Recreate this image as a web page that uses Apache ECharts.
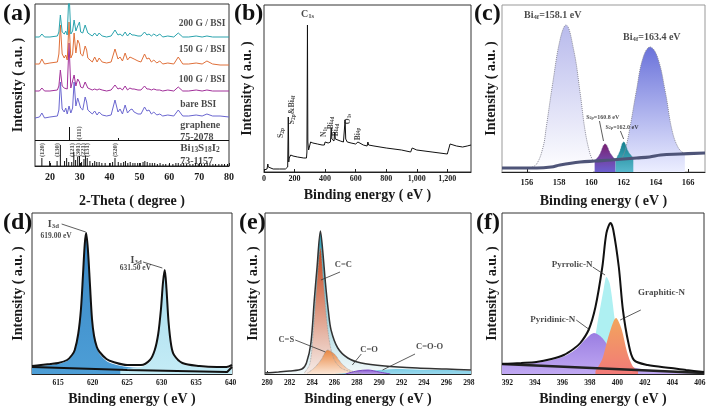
<!DOCTYPE html>
<html><head><meta charset="utf-8">
<script src="https://cdn.jsdelivr.net/npm/echarts@6/dist/echarts.min.js"></script>
<style>html,body{margin:0;padding:0;background:#fff}#c{width:709px;height:409px}</style>
</head><body><div id="c"></div>
<script>
// ===================== DATA =====================
// (a) XRD
const xrdTheta = [15,16.5,17.3,18.2,20,22.5,23.0,23.5,24.1,24.8,25.3,25.8,26.4,27.0,27.6,28.1,28.7,29.3,29.9,30.3,31.0,31.8,32.3,32.7,33.3,34.2,35.0,35.8,36.5,37.5,39.0,40.5,41.8,42.8,43.5,44.3,45.2,46.0,46.8,47.5,48.2,49.5,50.5,51.7,52.5,53.2,54.0,54.8,55.8,56.8,57.8,59.5,61.5,63.0,64.5,66.5,69.0,71.0,72.6,74.5,77.0,80.0];
const xrdBare = [48,49,53,48,49,50,56,84,57,54,58,52,60,53,58,84,60,68,66,58,56,69,64,56,57,52,55,51,54,51,50,51,66,54,57,52,61,53,56,57,54,52,52,59,55,56,52,54,51,52,50,51,50,56,50,50,51,50,52,50,50,49];
const xrd100G = [75,75,78,75,75,76,80,96,80,78,79,77,123,78,80,91,80,87,84,79,78,84,82,78,78,76,77,76,77,76,75,76,81,77,78,76,80,76,78,77,77,76,76,80,77,77,76,77,76,76,75,76,75,79,75,75,76,75,76,75,75,75];
const xrd150G = [102,102,107,102,103,104,112,141,112,108,111,106,144,108,112,133,113,126,122,112,110,120,116,108,109,104,109,104,108,104,103,104,117,107,109,105,113,106,109,108,107,105,104,112,107,108,104,106,103,105,102,103,102,109,102,102,103,102,105,102,101,101];
const xrd200G = [129,129,132,129,129,130,134,151,134,132,135,131,175,132,135,146,135,140,144,134,133,141,140,133,133,130,133,130,133,130,129,130,136,131,132,130,134,130,133,131,131,130,130,134,131,132,130,132,130,132,129,130,129,133,129,129,130,129,130,129,129,129];
const xrdNames = ['200 G / BSI','150 G / BSI','100 G / BSI','bare BSI'];
const biRefTheta = [17.3,19.9,22.4,23.5,24.9,25.6,26.3,27.3,28.0,28.6,29.3,29.9,30.6,31.4,31.9,32.5,33.4,34.3,35.0,35.7,36.5,37.4,38.5,40.2,41.0,41.8,42.9,43.8,44.7,45.3,46.1,46.9,47.8,48.5,49.4,50.3,51.2,51.8,52.6,53.5,54.3,55.1,56.0,56.9,57.9,58.8,60.0,61.2,62.2,63.0,63.9,64.8,65.8,66.9,67.9,68.8,69.7,70.8,71.8,72.7,73.6,74.6,75.5,76.6,77.6,78.5,79.5];
const biRefInt = [8,5,5,21,5,8,4,4,14,6,9,10,4,7,10,8,5,3,5,4,4,3,3,3,4,8,4,3,4,5,3,4,3,3,3,3,4,5,4,3,3,3,2,3,2,2,2,2,3,3,2,3,2,2,2,3,2,2,2,3,2,2,2,2,2,2,2];
const grapheneTheta = [26.5, 42.9];
const grapheneTop = [39, 28];
const refDivider = 26;
const hklTheta = [17.3,22.4,27.4,29.4,31.1,32.4,41.8];
const hklLabels = ['(120)','(130)','(121)','(301)','(221)','(131)','(520)'];

// (b) XPS survey [binding energy, intensity]
const survey = [[0,2],[10,2],[20,3],[25,8],[28,5],[35,4],[60,3],[100,3],[140,3],[150,3],[155,5],[157,30],[159,55],[161,30],[162,10],[165,14],[175,17],[190,16],[220,15],[260,14],[278,14],[281,20],[284.5,147],[287,30],[292,22],[300,24],[305,30],[312,32],[320,29],[350,28],[380,27],[395,27],[400,30],[405,28],[420,29],[435,30],[440,44],[444,33],[450,31],[458,31],[463,40],[467,33],[480,32],[500,31],[520,30],[528,31],[531,52],[535,33],[545,30],[570,29],[600,28],[615,30],[620,29],[650,27],[675,26],[680,30],[685,27],[720,26],[800,24],[900,22],[960,20],[970,24],[980,23],[1000,22],[1100,20],[1200,18],[1210,19],[1218,28],[1230,27],[1260,26],[1300,25],[1330,26],[1355,27]];

// (c) Bi 4f / S 2p
const cBackground = [[154.45,4],[156.6,4],[157.5,5],[158.05,7],[159.3,10],[160.2,11],[161.2,12],[162.8,14],[163.6,15],[164.3,17],[165.5,18],[167.05,19]];
const cBi4f72 = [[156.2,4],[156.6,8],[157.0,25],[157.2,45],[157.6,89],[158.05,132],[158.42,147],[158.9,122],[159.3,79],[159.6,42],[159.9,19],[160.1,11]];
const cBi4f52 = [[161.9,14],[162.1,22],[162.4,45],[162.8,82],[163.2,114],[163.64,125],[164.1,115],[164.6,79],[165.0,42],[165.4,24],[165.8,18]];
const cS2pA = [[160.2,11],[160.5,17],[160.85,28],[161.2,18],[161.5,12]];
const cS2pB = [[161.5,12],[161.75,20],[162.0,30],[162.3,20],[162.6,14]];

// (d) I 3d
const dEnvelope = [[611.2,8],[612.5,9],[613.8,10],[615.0,11],[616.3,14],[617.0,19],[617.4,24],[617.9,40],[618.3,65],[618.6,100],[618.85,130],[619.05,141],[619.3,125],[619.6,90],[619.9,55],[620.2,38],[620.6,27],[621.0,22],[622.0,15],[623.0,12],[625.0,9],[627.0,9],[628.3,14],[629.0,24],[629.5,40],[629.9,65],[630.2,92],[630.45,104],[630.7,85],[631.0,52],[631.4,28],[631.8,19],[633.0,11],[635.5,8],[638.0,7],[639.4,7],[640.2,9]];
const dI3d52 = [[611.2,8],[613.8,9],[616.3,13],[617.4,23],[617.9,39],[618.3,64],[618.6,99],[618.85,129],[619.05,140],[619.3,124],[619.6,89],[619.9,54],[620.2,37],[620.6,26],[621.0,20],[622.0,13],[623.0,10],[625.0,7],[628.0,6],[632,5],[640.2,4]];
const dI3d32 = [[624,5],[627.0,7],[628.3,12],[629.0,23],[629.5,39],[629.9,64],[630.2,91],[630.45,103],[630.7,84],[631.0,51],[631.4,27],[631.8,18],[633.0,10],[635.5,7],[638.0,6],[640.2,6]];
const dBackground = [[611.2,7],[625,4],[639.5,2],[640.2,7]];

// (e) C 1s
const eEnvelope = [[279.8,1],[281,2],[282,3],[283.1,5],[283.5,11],[283.9,31],[284.2,74],[284.45,107],[284.75,143],[284.95,124],[285.2,91],[285.45,64],[285.7,44],[286.3,26],[287.2,16],[288.4,11],[290.5,8],[293.4,6],[296,5],[298.2,4]];
const eCC = [[283.3,1],[283.8,10],[284.1,40],[284.4,85],[284.75,126],[285.0,95],[285.3,55],[285.6,30],[286.0,14],[286.6,6],[287.5,2]];
const eCS = [[283.6,1],[284.2,6],[284.8,14],[285.4,24],[286.0,20],[286.6,11],[287.2,5],[287.8,2],[288.5,0]];
const eCO = [[287.0,0],[288.0,3],[289.0,4],[290.0,2],[291,0]];
const eCOO = [[286,0],[288,2],[290,4],[292,5],[294,4],[296,4],[298.2,3]];

// (f) N 1s
const fEnvelope = [[391.6,10],[393,11],[394.1,12],[395.2,15],[396.1,19],[396.8,25],[397.3,31],[397.9,44],[398.4,67],[398.9,107],[399.2,141],[399.5,151],[399.7,144],[400.1,107],[400.4,64],[400.8,31],[401.2,14],[402.2,9],[403.9,6],[405,4],[406.3,2]];
const fPyridinic = [[391.6,9],[393,10],[394.5,12],[396,17],[397,25],[397.7,35],[398.3,41],[398.9,36],[399.5,24],[400.2,13],[401,7],[402.5,4],[404,3],[406.3,1]];
const fPyrrolic = [[397.6,5],[398.1,18],[398.6,55],[399.0,85],[399.2,97],[399.45,90],[399.8,55],[400.1,25],[400.5,8],[400.9,3]];
const fGraphitic = [[398.4,3],[398.9,15],[399.4,40],[399.9,56],[400.3,45],[400.7,22],[401.1,8],[401.5,3]];
const fBackground = [[391.6,10],[406.3,1]];

// tick labels
const ticksA = [20,30,40,50,60,70,80];
const ticksB = [0,200,400,600,800,1000,1200];
const ticksC = [156,158,160,162,164,166];
const ticksD = [615,620,625,630,635,640];
const ticksE = [280,282,284,286,288,290,292,294,296,298];
const ticksF = [392,394,396,398,400,402,404,406];

// ===================== CHART =====================
const FONT = 'Liberation Serif';
const TXT = '#1a1a1a';
const zip = (xs, ys) => xs.map((x, i) => [x, ys[i]]);
const grad = (a, b) => new echarts.graphic.LinearGradient(0, 0, 0, 1, [{offset:0, color:a}, {offset:1, color:b}]);

const gridDefs = [
  {left:35, top:4, width:194, height:162},
  {left:264, top:5, width:207, height:167},
  {left:502, top:5, width:203, height:167},
  {left:32, top:213, width:200, height:161},
  {left:265, top:213, width:206, height:161},
  {left:502, top:213, width:202, height:161}
];
const grid = gridDefs.map((g, i) => Object.assign({show:true, borderColor: i === 2 ? '#999' : '#333', borderWidth:1, backgroundColor:'transparent'}, g));

function xAx(gi, min, max, ticks, name, nameGap, fs, margin) {
  return {type:'value', gridIndex:gi, min, max, name, nameLocation:'middle', nameGap,
    nameTextStyle:{fontFamily:FONT, fontWeight:'bold', fontSize:14, color:TXT},
    axisLine:{show:true, onZero:false, lineStyle:{color:'#222', width:1}},
    axisTick:{show:true, inside:true, length:3, customValues:ticks, lineStyle:{color:'#222'}},
    axisLabel:{customValues:ticks, fontFamily:FONT, fontWeight:'bold', fontSize:fs, color:TXT, margin},
    splitLine:{show:false}};
}
function yAx(gi, max, nameGap) {
  return {type:'value', gridIndex:gi, min:0, max, name:'Intensity ( a.u. )', nameLocation:'middle', nameRotate:90, nameGap,
    nameTextStyle:{fontFamily:FONT, fontWeight:'bold', fontSize:14, color:TXT},
    axisLine:{show:false}, axisTick:{show:false}, axisLabel:{show:false}, splitLine:{show:false}};
}
const xAxis = [
  xAx(0, 15, 80, ticksA, '2-Theta ( degree )', 28, 10, 6),
  xAx(1, 0, 1355, ticksB, 'Binding energy ( eV )', 16, 8, 3),
  xAx(2, 154.45, 167.05, ticksC, 'Binding energy ( eV )', 22, 8.5, 6),
  xAx(3, 611.2, 640.2, ticksD, 'Binding energy ( eV )', 18, 7.5, 5),
  xAx(4, 279.8, 298.2, ticksE, 'Binding energy ( eV )', 18, 7.5, 5),
  xAx(5, 391.6, 406.3, ticksF, 'Binding energy ( eV )', 18, 7.5, 5)
];
const yAxis = [yAx(0, 162, 10), yAx(1, 167, 10), yAx(2, 167, 4), yAx(3, 161, 7), yAx(4, 161, 5), yAx(5, 161, 3)];

function line(gi, data, color, width, extra) {
  return Object.assign({type:'line', xAxisIndex:gi, yAxisIndex:gi, data, symbol:'none', silent:true,
    lineStyle:{color, width}}, extra || {});
}
function area(gi, data, fill, lineColor, lineWidth, lineType, smooth) {
  return {type:'line', xAxisIndex:gi, yAxisIndex:gi, data, symbol:'none', silent:true, smooth: smooth || 0,
    lineStyle:{color:lineColor, width:lineWidth, type:lineType || 'solid'}, areaStyle:{color:fill, opacity:1}};
}
function notes(gi, items, arrows) {
  const s = {type:'scatter', xAxisIndex:gi, yAxisIndex:gi, symbolSize:1, silent:true, z:10,
    itemStyle:{color:'rgba(0,0,0,0)'},
    data: items.map(n => ({value:[n[1], n[2]], label:{show:true, formatter:n[0],
      position: n[4] === 'l' ? 'right' : 'inside', distance:0, rotate:n[5] || 0,
      fontSize:n[3], fontFamily:FONT, fontWeight:'bold', color:TXT,
      rich:{s:{fontSize:n[3] * 0.68, fontFamily:FONT, fontWeight:'bold', color:TXT, verticalAlign:'bottom', padding:[n[3]*0.35,0,0,0]}}}}))};
  if (arrows) s.markLine = {silent:true, symbol:['none','arrow'], symbolSize:[0,5], label:{show:false},
    lineStyle:{color:'#333', width:0.8, type:'solid'},
    data: arrows.map(a => [{coord:[a[0], a[1]]}, {coord:[a[2], a[3]]}])};
  return s;
}

const series = [
  // (a)
  line(0, zip(xrdTheta, xrdBare), '#6a66d0', 1),
  line(0, zip(xrdTheta, xrd100G), '#a2309a', 1),
  line(0, zip(xrdTheta, xrd150G), '#e0703a', 1),
  line(0, zip(xrdTheta, xrd200G), '#2aa3ad', 1),
  {type:'bar', xAxisIndex:0, yAxisIndex:0, data: zip(biRefTheta, biRefInt), barWidth:1, silent:true,
   itemStyle:{color:'#111'},
   markLine:{silent:true, symbol:'none', label:{show:false}, lineStyle:{color:'#111', width:1, type:'solid'},
     data:[{yAxis:refDivider}].concat(grapheneTheta.map((t, i) => [{coord:[t, refDivider]}, {coord:[t, grapheneTop[i]]}]))}},
  notes(0, [
    [xrdNames[0], 63.0, 142.5, 9.5, 'l'], [xrdNames[1], 63.0, 116, 9.5, 'l'],
    [xrdNames[2], 63.0, 86.5, 9.5, 'l'], [xrdNames[3], 63.5, 61, 9.5, 'l'],
    ['graphene', 63.5, 41, 10, 'l'], ['75-2078', 63.5, 29, 10, 'l'],
    ['Bi{s|13}S{s|18}I{s|2}', 63.5, 18, 11, 'l'], ['73-1157', 63.5, 5, 10, 'l'],
    ['(111)', 29.9, 33, 6.5, 'c', 90]
  ].concat(hklTheta.map((t, i) => [hklLabels[i], t, 16, 6.5, 'c', 90]))),
  // (b)
  line(1, survey, '#111', 1),
  notes(1, [
    ['C{s|1s}', 285, 158, 10, 'c'], ['S{s|2p}&Bi{s|4f}', 183, 62, 8, 'c', 90],
    ['S{s|2p}', 112, 39, 8, 'c', 90], ['N{s|1s}', 394, 40, 7.5, 'c', 90],
    ['Bi{s|4d}', 437, 49, 7.5, 'c', 90], ['Bi{s|4d}', 474, 42, 7.5, 'c', 90],
    ['O{s|1s}', 551, 53, 7.5, 'c', 90], ['Bi{s|4p}', 613, 38, 7.5, 'c', 90]
  ]),
  // (c)
  area(2, cBi4f72, grad('#b8baec', '#ffffff'), '#8a8a98', 1, 'dotted', 0.4),
  area(2, cBi4f52, grad('#6a72da', '#eceeff'), '#8a8a98', 1, 'dotted', 0.4),
  area(2, cS2pA, grad('#7a2070', '#6c60d0'), '#6a4a90', 0.8, 'dotted', 0.4),
  area(2, cS2pB, grad('#12808f', '#58b8cc'), '#3a8a9a', 0.8, 'dotted', 0.4),
  line(2, cBackground, '#4e5478', 3.2, {smooth:0.4}),
  notes(2, [
    ['Bi{s|4f}=158.1 eV', 157.6, 157, 10, 'c'], ['Bi{s|4f}=163.4 eV', 163.75, 135, 10, 'c'],
    ['S{s|2p}=160.8 eV', 160.7, 55, 6, 'c'], ['S{s|2p}=162.0 eV', 161.9, 45, 6, 'c']
  ], [[160.5, 51, 160.75, 31], [161.8, 41, 162.0, 33]]),
  // (d)
  area(3, dI3d52, grad('#3a88c6', '#4d9ed6'), 'transparent', 0, 'solid', 0.3),
  area(3, dI3d32, grad('#aadcee', '#c4ecf6'), 'transparent', 0, 'solid', 0.3),
  line(3, dBackground, '#111', 2),
  line(3, dEnvelope, '#111', 2, {smooth:0.3}),
  notes(3, [
    ['I{s|3d}', 614.3, 150, 10, 'c'], ['619.00 eV', 614.7, 137.5, 7.5, 'c'],
    ['I{s|3d}', 626.3, 114, 10, 'c'], ['631.50 eV', 626.2, 106, 7.5, 'c']
  ], [[615.5, 150, 619.0, 142], [627.3, 112, 630.1, 106]]),
  // (e)
  area(4, eEnvelope, grad('#2c9db4', '#f4fafb'), 'transparent', 0, 'solid', 0.3),
  area(4, eCC, grad('#c4441a', '#f6ece8'), '#999', 0.8, 'dotted', 0.3),
  area(4, eCS, grad('#e98640', '#fbe6d6'), '#999', 0.8, 'dotted', 0.3),
  area(4, eCOO, grad('#7ccde6', '#9ad8ec'), 'transparent', 0, 'solid', 0.3),
  area(4, eCO, grad('#8a5ad0', '#b9a0e8'), '#7a4ac0', 1, 'solid', 0.3),
  line(4, eEnvelope, '#333', 1.5, {smooth:0.3}),
  notes(4, [
    ['C=C', 286.8, 109, 8.5, 'c'], ['C=S', 281.7, 34, 8.5, 'c'],
    ['C=O', 289.1, 24, 8.5, 'c'], ['C=O-O', 294.5, 27.5, 8.5, 'c']
  ], [[286.5, 102, 284.8, 94], [282.5, 34, 285.2, 22], [288.4, 20, 287.6, 9], [293.2, 20, 290.3, 4]]),
  // (f)
  area(5, fPyrrolic, '#aef0f2', 'transparent', 0, 'solid', 0.3),
  area(5, fPyridinic, grad('#9a7ee2', '#c0a8f2'), 'transparent', 0, 'solid', 0.3),
  area(5, fGraphitic, grad('#f2a55c', '#f27a78'), 'transparent', 0, 'solid', 0.3),
  line(5, fBackground, '#222', 2.5),
  line(5, fEnvelope, '#111', 2, {smooth:0.3}),
  notes(5, [
    ['Pyrrolic-N', 396.7, 109, 9, 'c'], ['Graphitic-N', 403.2, 81, 9, 'c'], ['Pyridinic-N', 395.3, 54, 9, 'c']
  ], [[398.2, 107, 399.1, 99], [401.7, 64, 400.2, 54], [397.0, 54, 398.0, 44]])
];

const panelLetters = [['(a)', 3, 2], ['(b)', 234, 2], ['(c)', 474, 2], ['(d)', 3, 211], ['(e)', 239, 211], ['(f)', 476, 211]];
const graphic = panelLetters.map(p => ({type:'text', left:p[1], top:p[2], z:100,
  style:{text:p[0], font:'bold 24px "Liberation Serif"', fill:'#111'}}));

const chart = echarts.init(document.getElementById('c'), null, {renderer:'canvas'});
chart.setOption({animation:false, backgroundColor:'#fff', grid, xAxis, yAxis, series, graphic});
</script>
</body></html>
